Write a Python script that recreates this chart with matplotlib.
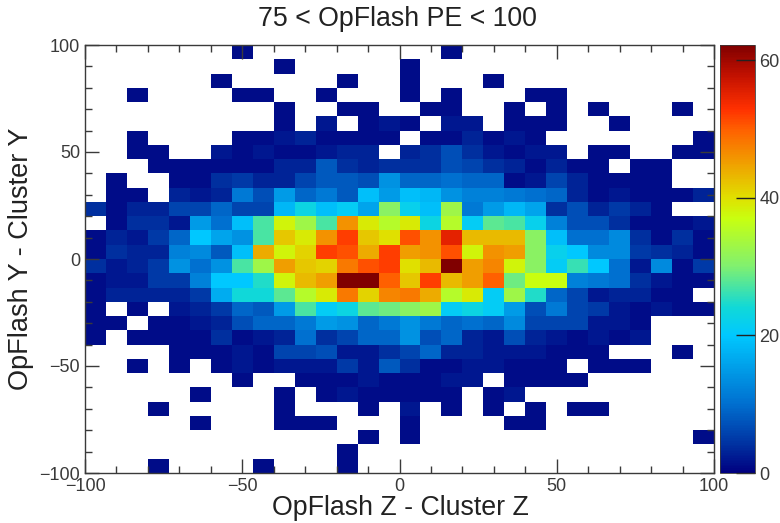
"""2D histogram of OpFlash vs cluster position offsets, ROOT look."""
import matplotlib

matplotlib.use("Agg")
import matplotlib.pyplot as plt
import numpy as np
from matplotlib.colors import LinearSegmentedColormap
from matplotlib.ticker import MultipleLocator

plt.rcParams["font.family"] = ["Liberation Sans", "DejaVu Sans"]

TITLE = "75 < OpFlash PE < 100"
XLABEL = "OpFlash Z - Cluster Z"
YLABEL = "OpFlash Y - Cluster Y"
Z_MAX = 62.2
Z_TICKS = [0, 20, 40, 60]

# bin counts, top row first, 0 = empty bin
ROW_00 = [0, 0, 0, 0, 0, 0, 0, 1, 0, 0, 0, 0, 0, 0, 0, 0, 0, 1, 0, 0, 0, 0, 0, 0, 0, 0, 0, 0, 0, 0]
ROW_01 = [0, 0, 0, 0, 0, 0, 0, 0, 0, 1, 0, 0, 0, 0, 0, 1, 0, 0, 0, 0, 0, 0, 0, 0, 0, 0, 0, 0, 0, 0]
ROW_02 = [0, 0, 0, 0, 0, 0, 1, 0, 0, 0, 0, 0, 1, 0, 0, 1, 0, 0, 0, 1, 0, 0, 0, 0, 0, 0, 0, 0, 0, 0]
ROW_03 = [0, 0, 1, 0, 0, 0, 0, 1, 1, 0, 0, 1, 0, 0, 0, 1, 0, 1, 0, 0, 0, 1, 1, 0, 0, 0, 0, 0, 0, 0]
ROW_04 = [0, 0, 0, 0, 0, 0, 0, 0, 0, 1, 0, 0, 1, 1, 0, 0, 1, 1, 0, 0, 1, 0, 1, 0, 1, 0, 0, 0, 1, 0]
ROW_05 = [0, 0, 0, 0, 0, 0, 0, 0, 0, 1, 0, 2, 0, 1, 2, 1, 0, 2, 2, 0, 1, 1, 1, 0, 0, 1, 0, 0, 0, 0]
ROW_06 = [0, 0, 1, 0, 0, 0, 0, 1, 1, 2, 3, 1, 1, 1, 1, 0, 1, 1, 3, 1, 2, 1, 0, 0, 0, 0, 0, 0, 0, 1]
ROW_07 = [0, 0, 1, 1, 0, 0, 2, 1, 2, 1, 1, 2, 3, 3, 0, 3, 4, 7, 4, 2, 1, 2, 2, 0, 1, 1, 0, 0, 1, 1]
ROW_08 = [0, 0, 0, 1, 1, 1, 1, 1, 1, 3, 3, 8, 4, 3, 4, 4, 4, 7, 6, 4, 3, 1, 3, 1, 1, 0, 1, 1, 0, 0]
ROW_09 = [0, 1, 0, 0, 1, 1, 4, 5, 3, 3, 6, 8, 8, 7, 14, 9, 9, 10, 9, 9, 1, 2, 6, 3, 1, 1, 1, 1, 0, 0]
ROW_10 = [0, 1, 1, 0, 3, 2, 3, 11, 7, 15, 9, 11, 8, 19, 15, 19, 18, 14, 12, 12, 11, 10, 9, 3, 1, 2, 1, 1, 1, 3]
ROW_11 = [4, 1, 3, 3, 6, 6, 9, 6, 6, 18, 23, 19, 21, 16, 31, 22, 19, 33, 11, 15, 18, 16, 4, 7, 3, 5, 3, 1, 0, 0]
ROW_12 = [0, 1, 4, 4, 2, 15, 10, 19, 27, 38, 33, 27, 46, 39, 35, 39, 23, 35, 21, 28, 27, 22, 12, 7, 7, 4, 1, 1, 1, 2]
ROW_13 = [1, 3, 2, 5, 9, 20, 16, 14, 27, 42, 39, 46, 52, 42, 40, 51, 46, 55, 43, 43, 43, 31, 19, 10, 10, 13, 4, 1, 4, 1]
ROW_14 = [1, 4, 3, 3, 12, 13, 8, 19, 44, 38, 41, 52, 51, 44, 52, 45, 46, 51, 38, 46, 45, 31, 22, 20, 13, 13, 5, 4, 3, 1]
ROW_15 = [4, 2, 3, 5, 14, 10, 14, 27, 33, 45, 42, 41, 48, 51, 52, 40, 43, 62, 45, 47, 38, 31, 21, 26, 20, 10, 2, 13, 1, 5]
ROW_16 = [1, 2, 2, 5, 5, 12, 20, 20, 25, 38, 43, 45, 62, 62, 50, 42, 52, 43, 45, 50, 29, 37, 37, 12, 11, 10, 4, 2, 1, 1]
ROW_17 = [1, 3, 3, 3, 3, 5, 17, 24, 24, 28, 35, 39, 48, 41, 47, 48, 44, 35, 39, 21, 33, 25, 9, 6, 2, 3, 3, 1, 1, 0]
ROW_18 = [1, 0, 1, 0, 2, 3, 5, 9, 8, 15, 27, 21, 23, 28, 29, 31, 33, 21, 23, 21, 15, 7, 11, 6, 5, 2, 1, 2, 1, 1]
ROW_19 = [1, 1, 0, 1, 1, 2, 3, 7, 9, 9, 11, 15, 14, 9, 11, 14, 11, 9, 10, 9, 13, 6, 6, 6, 2, 2, 1, 0, 0, 0]
ROW_20 = [1, 0, 1, 1, 1, 1, 4, 1, 2, 3, 10, 4, 6, 9, 9, 14, 7, 9, 3, 2, 7, 3, 2, 1, 2, 1, 2, 0, 0, 0]
ROW_21 = [0, 0, 0, 0, 1, 1, 1, 2, 1, 6, 6, 7, 2, 2, 4, 6, 9, 3, 3, 2, 2, 2, 1, 1, 1, 0, 0, 0, 1, 0]
ROW_22 = [0, 0, 1, 0, 1, 0, 1, 2, 1, 2, 2, 2, 5, 2, 8, 4, 1, 1, 2, 2, 1, 1, 1, 0, 1, 1, 1, 0, 0, 0]
ROW_23 = [0, 0, 0, 0, 0, 0, 0, 1, 0, 0, 1, 1, 1, 2, 1, 1, 1, 2, 2, 0, 1, 1, 1, 1, 0, 0, 0, 0, 0, 0]
ROW_24 = [0, 0, 0, 0, 0, 1, 0, 0, 0, 1, 0, 1, 2, 1, 1, 1, 1, 1, 0, 1, 2, 0, 0, 0, 0, 0, 0, 0, 0, 0]
ROW_25 = [0, 0, 0, 1, 0, 0, 0, 0, 0, 1, 0, 0, 0, 1, 0, 2, 0, 1, 0, 1, 0, 1, 0, 1, 1, 0, 0, 0, 0, 0]
ROW_26 = [0, 0, 0, 0, 0, 1, 0, 0, 0, 1, 1, 1, 0, 0, 0, 1, 0, 0, 0, 0, 1, 1, 0, 0, 0, 0, 0, 0, 0, 0]
ROW_27 = [0, 0, 0, 0, 0, 0, 0, 0, 0, 0, 0, 0, 0, 1, 0, 1, 0, 0, 0, 0, 0, 0, 0, 0, 0, 0, 0, 0, 0, 1]
ROW_28 = [0, 0, 0, 0, 0, 0, 0, 0, 0, 0, 0, 0, 1, 0, 0, 0, 0, 0, 0, 0, 0, 0, 0, 0, 0, 0, 0, 0, 0, 0]
ROW_29 = [0, 0, 0, 1, 0, 0, 0, 0, 1, 0, 0, 0, 1, 0, 0, 0, 0, 0, 0, 0, 0, 0, 0, 0, 0, 0, 0, 0, 0, 0]

counts = np.array([
    ROW_00, ROW_01, ROW_02, ROW_03, ROW_04, ROW_05, ROW_06, ROW_07, ROW_08, ROW_09,
    ROW_10, ROW_11, ROW_12, ROW_13, ROW_14, ROW_15, ROW_16, ROW_17, ROW_18, ROW_19,
    ROW_20, ROW_21, ROW_22, ROW_23, ROW_24, ROW_25, ROW_26, ROW_27, ROW_28, ROW_29,
], dtype=float)

rainbow = LinearSegmentedColormap.from_list("rootbow", [
    (0 / Z_MAX, "#000080"), (4 / Z_MAX, "#0030a0"), (10 / Z_MAX, "#0070d0"),
    (20 / Z_MAX, "#00c8ff"), (24 / Z_MAX, "#10d8d8"), (30 / Z_MAX, "#80f070"),
    (37 / Z_MAX, "#c8ff10"), (40 / Z_MAX, "#e0e000"), (45 / Z_MAX, "#f0a000"),
    (50 / Z_MAX, "#ff6000"), (53 / Z_MAX, "#ff3000"), (58 / Z_MAX, "#c01000"),
    (1, "#800000"),
], N=256)

INK = "#222222"
TICK_INK = "#3a3a3a"
W, H = 780, 523

fig = plt.figure(figsize=(W / 100, H / 100), dpi=100, facecolor="white")
ax = fig.add_axes([85 / W, 1 - 473 / H, 629 / W, 428 / H])
cax = fig.add_axes([720 / W, 1 - 473 / H, 35 / W, 428 / H])

x_edges = np.linspace(-100, 100, counts.shape[1] + 1)
y_edges = np.linspace(100, -100, counts.shape[0] + 1)
mesh = ax.pcolormesh(x_edges, y_edges, np.ma.masked_equal(counts, 0),
                     cmap=rainbow, vmin=0, vmax=Z_MAX)

ax.set_xlim(-100, 100)
ax.set_ylim(-100, 100)
ax.xaxis.set_major_locator(MultipleLocator(50))
ax.xaxis.set_minor_locator(MultipleLocator(10))
ax.yaxis.set_major_locator(MultipleLocator(50))
ax.yaxis.set_minor_locator(MultipleLocator(10))
ax.tick_params(which="major", direction="in", top=True, right=True, length=10,
               width=1, color=TICK_INK, labelsize=13, labelcolor=TICK_INK, pad=3.5)
ax.tick_params(which="minor", direction="in", top=True, right=True, length=5,
               width=1, color=TICK_INK)
ax.set_axisbelow(False)
for spine in ax.spines.values():
    spine.set_color(TICK_INK)
    spine.set_linewidth(1.0)

fig.text(397 / W, 1 - 19 / H, TITLE, ha="center", va="center", fontsize=19.3, color=INK)
fig.text(400.5 / W, 1 - 508 / H, XLABEL, ha="center", va="center", fontsize=19.3, color=INK)
fig.text(21 / W, 1 - 259 / H, YLABEL, ha="center", va="center", rotation=90,
         fontsize=19.5, color=INK)

cbar = fig.colorbar(mesh, cax=cax)
cbar.set_ticks(Z_TICKS)
cbar.ax.tick_params(direction="in", length=14, width=1, color=INK, labelsize=13,
                    labelcolor=TICK_INK, pad=3)
cbar.outline.set_edgecolor(TICK_INK)
cbar.outline.set_linewidth(0.6)

fig.savefig("out.png", dpi=100, facecolor="white")
plt.close(fig)
